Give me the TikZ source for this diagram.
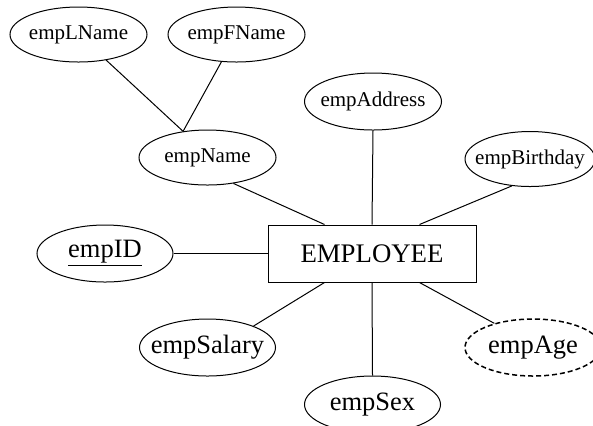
\documentclass[tikz,border=0pt]{standalone}
\usepackage{fontspec}
\setmainfont{Liberation Serif}
\usepackage{tikz}
\usetikzlibrary{shapes.geometric}

\begin{document}
\begin{tikzpicture}[x=0.5pt, y=-0.5pt, line width=0.5pt,
  attr/.style={draw, ellipse, inner xsep=-10pt, inner ysep=0pt, minimum width=68.5pt, minimum height=27.5pt, font=\fontsize{10.5}{12}\selectfont},
  bigattr/.style={attr, minimum width=68pt, minimum height=28.5pt, font=\fontsize{13.25}{15}\selectfont},
  entity/.style={draw, rectangle, inner sep=0pt, minimum width=104pt, minimum height=28.5pt, font=\fontsize{13.4}{15}\selectfont}]
  \useasboundingbox (0, 0) rectangle (593, 425);

  % entity
  \node[entity] (emp) at (372, 253.5) {EMPLOYEE};

  % composite attribute
  \node[attr] (empName) at (207.5, 157.5) {empName};
  \node[attr] (empLName) at (78.5, 34.5) {empLName};
  \node[attr] (empFName) at (236.5, 34.5) {empFName};

  % simple attributes
  \node[attr, minimum height=28.5pt] (empAddress) at (373, 101.5) {empAddress};
  \node[attr, minimum width=65pt] (empBirthday) at (530, 159) {empBirthday};
  \node[bigattr] (empID) at (105, 253.5) {\underline{empID}};
  \node[bigattr] (empSalary) at (207.5, 347.5) {empSalary};
  \node[bigattr] (empSex) at (372.5, 404.5) {empSex};
  \node[bigattr, line width=0.75pt, dash pattern=on 2.5pt off 1.5pt] (empAge) at (533, 347.5) {empAge};

  \draw (empLName) -- (empName.133);
  \draw (empFName) -- (empName.133);
  \draw (empName.-45) -- ([xshift=-23.75pt]emp.north);
  \draw (empAddress.south) -- (emp.north);
  \draw (empBirthday.-124) -- ([xshift=23.75pt]emp.north);
  \draw (empID) -- (emp.west);
  \draw (empSalary.25) -- ([xshift=-23.75pt]emp.south);
  \draw (empSex.north) -- (emp.south);
  \draw (empAge.148) -- ([xshift=23.75pt]emp.south);
\end{tikzpicture}
\end{document}
